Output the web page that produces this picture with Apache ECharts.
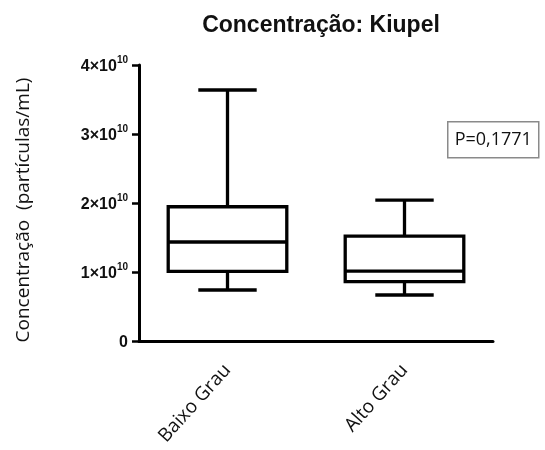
<!DOCTYPE html>
<html>
<head>
<meta charset="utf-8">
<script src="https://cdn.jsdelivr.net/npm/echarts@6/dist/echarts.min.js"></script>
<style>
  html, body { margin: 0; padding: 0; background: #fff; }
  #chart { width: 545px; height: 450px; }
</style>
</head>
<body>
<div id="chart"></div>
<script>
// Five-number summaries per group (partículas/mL)
const categories = ['Baixo Grau', 'Alto Grau'];
const minValues    = [0.739e10, 0.667e10];
const q1Values     = [1.010e10, 0.860e10];
const medianValues = [1.435e10, 1.014e10];
const q3Values     = [1.946e10, 1.520e10];
const maxValues    = [3.638e10, 2.043e10];
const yTickValues  = [0, 1e10, 2e10, 3e10, 4e10];
const pValueText   = 'P=0,1771';

const boxData = categories.map((c, i) =>
  [i, minValues[i], q1Values[i], medianValues[i], q3Values[i], maxValues[i]]);

const LW = 3.3;

function renderBox(params, api) {
  const idx = api.value(0);
  const pMin = api.coord([idx, api.value(1)]);
  const pQ1  = api.coord([idx, api.value(2)]);
  const pMed = api.coord([idx, api.value(3)]);
  const pQ3  = api.coord([idx, api.value(4)]);
  const pMax = api.coord([idx, api.value(5)]);
  const band = api.size([1, 0])[0];
  const boxW = band * 0.67;
  const capW = band * 0.33;
  const cx = pMed[0];
  const st = { stroke: '#000', lineWidth: LW, fill: null };
  const line = (x1, y1, x2, y2) => ({ type: 'line', shape: { x1, y1, x2, y2 }, style: st });
  return {
    type: 'group',
    children: [
      line(cx, pMax[1], cx, pQ3[1]),
      line(cx, pQ1[1], cx, pMin[1]),
      line(cx - capW / 2, pMax[1], cx + capW / 2, pMax[1]),
      line(cx - capW / 2, pMin[1], cx + capW / 2, pMin[1]),
      { type: 'rect', shape: { x: cx - boxW / 2, y: pQ3[1], width: boxW, height: pQ1[1] - pQ3[1] },
        style: { stroke: '#000', lineWidth: LW, fill: '#fff' } },
      line(cx - boxW / 2, pMed[1], cx + boxW / 2, pMed[1])
    ]
  };
}

const chart = echarts.init(document.getElementById('chart'), null, { renderer: 'canvas' });
chart.setOption({
  animation: false,
  backgroundColor: '#fff',
  title: {
    text: 'Concentração: Kiupel',
    left: 316, top: 9, textAlign: 'center',
    textStyle: { fontFamily: 'Liberation Sans', fontWeight: 'bold', fontSize: 23, color: '#111' }
  },
  grid: { left: 139, right: 52, top: 65, bottom: 109 },
  xAxis: {
    type: 'category',
    data: categories,
    axisLine: { lineStyle: { color: '#000', width: 3 } },
    axisTick: { alignWithLabel: true, length: 7, lineStyle: { color: '#000', width: 2.5 } },
    axisLabel: {
      rotate: 48, margin: 26, color: '#111',
      fontFamily: 'Open Sans', fontSize: 19
    }
  },
  yAxis: {
    type: 'value',
    min: yTickValues[0], max: yTickValues[yTickValues.length - 1], interval: 1e10,
    name: 'Concentração  (partículas/mL)',
    nameLocation: 'middle', nameGap: 106, nameRotate: 90,
    nameTextStyle: { fontFamily: 'Open Sans', fontSize: 19, color: '#111', padding: [0, 14, 0, 0] },
    splitLine: { show: false },
    axisLine: { show: true, lineStyle: { color: '#000', width: 3 } },
    axisTick: { show: true, length: 7, lineStyle: { color: '#000', width: 2.5 } },
    axisLabel: {
      margin: 11,
      formatter: v => v === 0 ? '{b|0}' : '{b|' + (v / 1e10) + '×10}{s|10}',
      rich: {
        b: { fontFamily: 'Liberation Sans', fontWeight: 'bold', fontSize: 16, color: '#111', lineHeight: 20, verticalAlign: 'bottom' },
        s: { fontFamily: 'Liberation Sans', fontWeight: 'bold', fontSize: 10, color: '#111', lineHeight: 20, verticalAlign: 'top' }
      }
    }
  },
  series: [{
    type: 'custom',
    renderItem: renderBox,
    encode: { x: 0, y: [1, 2, 3, 4, 5] },
    data: boxData
  }],
  graphic: [{
    type: 'group', left: 447, top: 121,
    children: [
      { type: 'rect', shape: { x: 0, y: 0, width: 91, height: 36 },
        style: { fill: '#fff', stroke: '#8a8a8a', lineWidth: 1.5 } },
      { type: 'text', x: 45.5, y: 18,
        style: { text: pValueText, fontFamily: 'Open Sans', fontSize: 18, fill: '#111',
                 align: 'center', verticalAlign: 'middle' } }
    ]
  }]
});
</script>
</body>
</html>
